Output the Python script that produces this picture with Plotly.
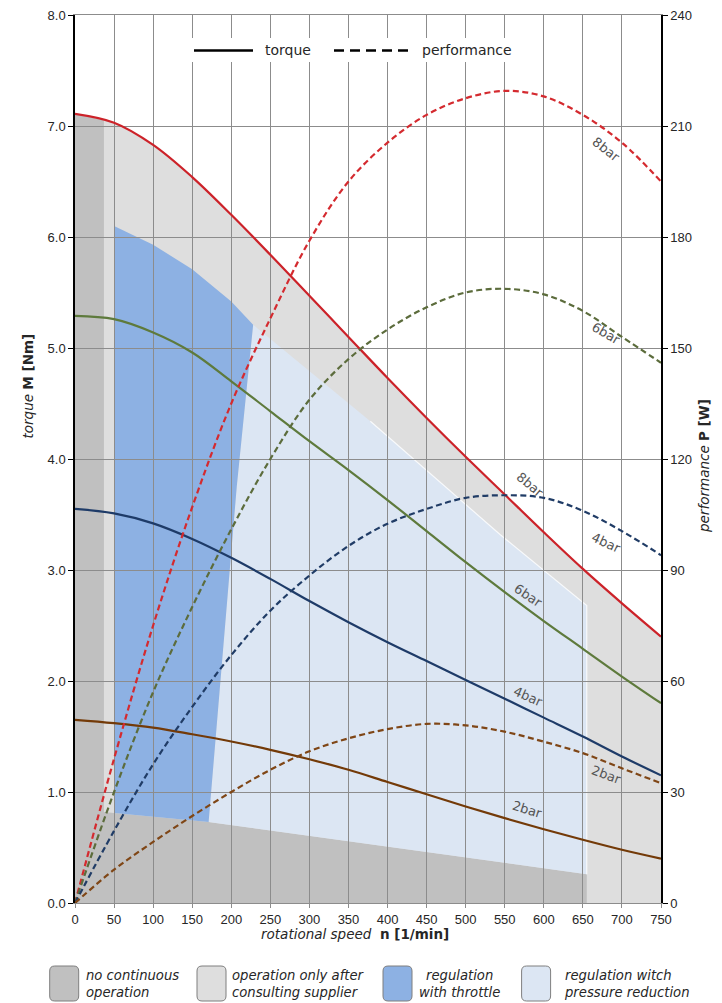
import plotly.graph_objects as go

# ---------------- data ----------------
speed = [0, 50, 100, 150, 200, 250, 300, 350, 400, 450, 500, 550, 600, 650, 700, 750]

torque_8bar = [7.11, 7.03, 6.83, 6.54, 6.20, 5.84, 5.47, 5.10, 4.73, 4.37, 4.02, 3.68, 3.34, 3.01, 2.70, 2.40]
torque_6bar = [5.29, 5.26, 5.14, 4.96, 4.70, 4.43, 4.16, 3.90, 3.63, 3.35, 3.07, 2.80, 2.54, 2.29, 2.04, 1.80]
torque_4bar = [3.55, 3.51, 3.42, 3.28, 3.11, 2.92, 2.72, 2.53, 2.35, 2.18, 2.01, 1.84, 1.67, 1.50, 1.32, 1.15]
torque_2bar = [1.65, 1.62, 1.58, 1.52, 1.455, 1.38, 1.295, 1.20, 1.09, 0.98, 0.87, 0.765, 0.665, 0.57, 0.48, 0.40]

perf_8bar = [0, 39, 75, 107, 135, 158, 179, 195, 205.5, 213, 217.5, 219.5, 218, 213, 205.5, 195]
perf_6bar = [0, 30, 57, 80, 101, 120, 136, 147, 155, 161, 165, 166, 164.5, 160, 153, 146]
perf_4bar = [0, 19.5, 37.5, 53, 67, 79, 88.5, 96.5, 102.5, 106.5, 109.5, 110.2, 109.5, 106, 100.5, 94]
perf_2bar = [0, 9, 16.5, 23.5, 30, 36, 41, 44.5, 47, 48.4, 48, 46.3, 43.6, 40.5, 36.4, 32.4]

# operating regions (speed, torque)
nocont_speed = [0, 0, 37, 37, 50, 171, 655, 655]
nocont_torque = [0, 7.11, 7.05, 0.82, 0.81, 0.73, 0.26, 0]

throttle_speed = [50, 50, 100, 150, 200, 228, 207, 171]
throttle_torque = [0.81, 6.10, 5.93, 5.71, 5.42, 5.21, 3.75, 0.73]

pressred_speed = [171, 207, 228, 378, 544, 655, 655]
pressred_torque = [0.73, 3.75, 5.21, 4.34, 3.32, 2.68, 0.26]

x_ticks = list(range(0, 751, 50))
y_ticks = [0, 1, 2, 3, 4, 5, 6, 7, 8]
y2_ticks = [0, 30, 60, 90, 120, 150, 180, 210, 240]

# curve labels: (text, speed, value, angle)
torque_labels = [("8bar", 582, 3.77, 40), ("6bar", 580, 2.77, 34), ("4bar", 580, 1.86, 24), ("2bar", 579, 0.84, 17)]
perf_labels = [("8bar", 680, 203.7, 38), ("6bar", 680, 154, 30), ("4bar", 679, 97.4, 25), ("2bar", 679, 34.6, 20)]

legend_items = [
    ("no continuous<br>operation", "#c0c0c0", "left"),
    ("operation only after<br>consulting supplier", "#dedede", "left"),
    ("regulation<br>with throttle", "#8db1e3", "center"),
    ("regulation witch<br>pressure reduction", "#dce6f3", "left"),
]

# ---------------- styles ----------------
C_RED = "#cc2229"
C_GREEN = "#5e7a3c"
C_NAVY = "#1e3b68"
C_BROWN = "#733a08"
GRID = "#8c8c8c"
TXT = "#262626"
FONT_T = "DejaVu Sans"
FONT_N = "Liberation Sans"

# layout geometry (pixels)
W, H = 722, 1003
ML, MR, MT, MB = 75, 61, 15, 100
PW, PH = W - ML - MR, H - MT - MB


def xp(px):
    return (px - ML) / PW


def yp(py):
    return (H - MB - py) / PH


def poly_path(xs, ys):
    pts = " L ".join(f"{x},{y}" for x, y in zip(xs, ys))
    return f"M {pts} Z"


def line_path(xs, ys):
    pts = " L ".join(f"{x},{y}" for x, y in zip(xs, ys))
    return f"M {pts}"


def rounded_rect(x0, y0, x1, y1, r):
    rx, ry = r / PW, r / PH
    a, b, c, d = xp(x0), yp(y1), xp(x1), yp(y0)  # left, bottom, right, top
    return (f"M {a+rx},{b} L {c-rx},{b} Q {c},{b} {c},{b+ry} L {c},{d-ry} Q {c},{d} {c-rx},{d} "
            f"L {a+rx},{d} Q {a},{d} {a},{d-ry} L {a},{b+ry} Q {a},{b} {a+rx},{b} Z")


fig = go.Figure()

shapes = []
shapes.append(dict(type="path", xref="x", yref="y", layer="below", line=dict(width=0),
                   fillcolor="#dedede",
                   path=poly_path([speed[0]] + speed + [speed[-1]], [0] + torque_8bar + [0])))
shapes.append(dict(type="path", xref="x", yref="y", layer="below", line=dict(width=0),
                   fillcolor="#c0c0c0", path=poly_path(nocont_speed, nocont_torque)))
shapes.append(dict(type="path", xref="x", yref="y", layer="below", line=dict(width=0),
                   fillcolor="#dce6f3", path=poly_path(pressred_speed, pressred_torque)))
shapes.append(dict(type="path", xref="x", yref="y", layer="below", line=dict(width=0),
                   fillcolor="#8db1e3", path=poly_path(throttle_speed, throttle_torque)))
shapes.append(dict(type="path", xref="x", yref="y", layer="below",
                   line=dict(width=1.2, color="rgba(255,255,255,0.8)"),
                   path=line_path(pressred_speed[3:], pressred_torque[3:])))

for vals, col in [(torque_8bar, C_RED), (torque_6bar, C_GREEN), (torque_4bar, C_NAVY), (torque_2bar, C_BROWN)]:
    fig.add_trace(go.Scatter(x=speed, y=vals, mode="lines", line=dict(color=col, width=2.2, shape="spline"),
                             showlegend=False, hoverinfo="skip"))
for vals, col in [(perf_8bar, "#d42a2f"), (perf_6bar, "#5c6c3c"), (perf_4bar, "#203c66"), (perf_2bar, "#7f4616")]:
    fig.add_trace(go.Scatter(x=speed, y=vals, yaxis="y2", mode="lines",
                             line=dict(color=col, width=2.2, shape="spline", dash="6px,3.5px"),
                             showlegend=False, hoverinfo="skip"))

annotations = []
for t, n, v, ang in torque_labels:
    annotations.append(dict(x=n, y=v, xref="x", yref="y", text=t, showarrow=False, textangle=ang,
                            font=dict(family=FONT_T, size=13, color="#555555")))
for t, n, v, ang in perf_labels:
    annotations.append(dict(x=n, y=v, xref="x", yref="y2", text=t, showarrow=False, textangle=ang,
                            font=dict(family=FONT_T, size=13, color="#555555")))

# top legend (torque / performance)
shapes.append(dict(type="rect", xref="paper", yref="paper", layer="above", line=dict(width=0),
                   fillcolor="white", x0=xp(186), x1=xp(522), y0=yp(62), y1=yp(38)))
shapes.append(dict(type="line", xref="paper", yref="paper", layer="above", line=dict(color="black", width=2.5),
                   x0=xp(194), x1=xp(253), y0=yp(50.5), y1=yp(50.5)))
shapes.append(dict(type="line", xref="paper", yref="paper", layer="above",
                   line=dict(color="black", width=2.5, dash="10px,6px"),
                   x0=xp(334), x1=xp(410), y0=yp(50.5), y1=yp(50.5)))
annotations.append(dict(x=xp(263), y=yp(50), xref="paper", yref="paper", xanchor="left", yanchor="middle",
                        text="torque", showarrow=False, font=dict(family=FONT_T, size=14, color=TXT)))
annotations.append(dict(x=xp(420), y=yp(50), xref="paper", yref="paper", xanchor="left", yanchor="middle",
                        text="performance", showarrow=False, font=dict(family=FONT_T, size=14, color=TXT)))

# axis titles
annotations.append(dict(x=xp(355), y=yp(934), xref="paper", yref="paper", xanchor="center", yanchor="middle",
                        text="<i>rotational speed</i>  <b>n [1/min]</b>", showarrow=False,
                        font=dict(family=FONT_T, size=13.5, color=TXT)))
annotations.append(dict(x=xp(27.5), y=yp(386), xref="paper", yref="paper", xanchor="center", yanchor="middle",
                        text="<i>torque</i> <b>M [Nm]</b>", showarrow=False, textangle=-90,
                        font=dict(family=FONT_T, size=13.5, color=TXT)))
annotations.append(dict(x=xp(704), y=yp(466), xref="paper", yref="paper", xanchor="center", yanchor="middle",
                        text="<i>performance</i> <b>P [W]</b>", showarrow=False, textangle=-90,
                        font=dict(family=FONT_T, size=13.5, color=TXT)))

# bottom legend of operating regions
box_x = [49.7, 197, 383, 521.6]
text_x = [84.3, 230, 416.5, 562]
for (label, col, align), bx, tx in zip(legend_items, box_x, text_x):
    shapes.append(dict(type="path", xref="paper", yref="paper", layer="above",
                       line=dict(color="#7f7f7f", width=1), fillcolor=col,
                       path=rounded_rect(bx, 966, bx + 29, 1001, 5)))
    annotations.append(dict(x=xp(tx), y=yp(983.5), xref="paper", yref="paper", xanchor="left",
                            yanchor="middle", align=align, text=f"<i>{label}</i>", showarrow=False,
                            font=dict(family=FONT_T, size=13.2, color=TXT)))

fig.update_layout(
    width=W, height=H,
    margin=dict(l=ML, r=MR, t=MT, b=MB, pad=0),
    paper_bgcolor="white", plot_bgcolor="white",
    showlegend=False,
    shapes=shapes, annotations=annotations,
    xaxis=dict(range=[0, 750], tickvals=x_ticks, ticktext=[str(v) for v in x_ticks],
               showgrid=True, gridcolor=GRID, gridwidth=1, zeroline=False,
               showline=True, linecolor=GRID, linewidth=1, mirror=True,
               ticks="outside", ticklen=4, tickcolor=GRID, automargin=False,
               tickfont=dict(family=FONT_N, size=13, color=TXT)),
    yaxis=dict(range=[0, 8], tickvals=y_ticks, ticktext=[f"{v:.1f}" for v in y_ticks],
               showgrid=True, gridcolor=GRID, gridwidth=1, zeroline=False,
               showline=True, linecolor="black", linewidth=1.5, automargin=False,
               ticks="outside", ticklen=5, tickcolor="black",
               tickfont=dict(family=FONT_N, size=13, color=TXT)),
    yaxis2=dict(range=[0, 240], tickvals=y2_ticks, ticktext=[str(v) for v in y2_ticks],
                overlaying="y", side="right", showgrid=False, zeroline=False,
                showline=True, linecolor="black", linewidth=1.5, automargin=False,
                ticks="outside", ticklen=5, tickcolor="black",
                tickfont=dict(family=FONT_N, size=13, color=TXT)),
)

fig.write_html("out.html", config={"displayModeBar": False},
               post_script="document.body.style.margin='0px';document.body.style.padding='0px';")
